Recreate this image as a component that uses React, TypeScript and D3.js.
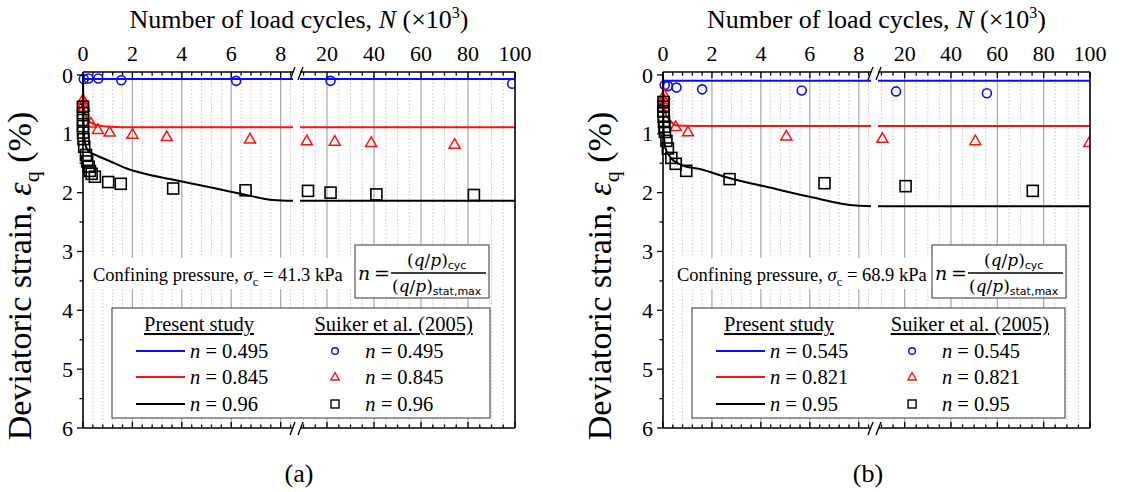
import React from 'react';
import * as d3 from 'd3';

const W = 1131;
const H = 492;
const BREAK = 8.5;

// tick labels
const topTicksLeft = [0, 2, 4, 6, 8];
const topTicksRight = [20, 40, 60, 80, 100];
const yTickValues = [0, 1, 2, 3, 4, 5, 6];

// ---------- Panel (a) data: [N (x10^3), strain %] ----------
const aBlueModelL = [[0, 0.07], [8.5, 0.07]];
const aBlueModelR = [[8.5, 0.07], [100, 0.07]];
const aRedModelL = [[0, 0.42], [0.05, 0.6], [0.12, 0.7], [0.21, 0.77], [0.35, 0.82], [0.55, 0.85], [0.8, 0.87], [1.1, 0.88], [2, 0.89], [8.5, 0.89]];
const aRedModelR = [[8.5, 0.89], [100, 0.89]];
const aBlackModelL = [[0, 0], [0.02, 0.8], [0.08, 1.15], [0.21, 1.29], [0.5, 1.36], [1, 1.45], [1.77, 1.59], [2.5, 1.68], [3.52, 1.77], [5.14, 1.91], [6.61, 2.04], [7.7, 2.125], [8.5, 2.14]];
const aBlackModelR = [[8.5, 2.14], [100, 2.14]];
const aCircles = [[0.03, 0.07], [0.22, 0.06], [0.62, 0.06], [1.55, 0.09], [6.2, 0.1], [21.5, 0.1], [98.8, 0.15]];
const aTriangles = [[0, 0.42], [0.02, 0.48], [0.04, 0.55], [0.32, 0.82], [0.6, 0.93], [1.08, 0.975], [2.0, 1.01], [3.39, 1.05], [6.76, 1.09], [11.4, 1.12], [23.3, 1.13], [38.8, 1.15], [74.3, 1.18]];
const aSquares = [[0, 0.54], [0, 0.65], [0, 0.765], [0, 0.87], [0, 0.98], [0.02, 1.09], [0.05, 1.22], [0.12, 1.36], [0.17, 1.47], [0.23, 1.56], [0.28, 1.63], [0.35, 1.68], [0.48, 1.73], [1.02, 1.82], [1.53, 1.85], [3.65, 1.93], [6.58, 1.96], [11.9, 1.97], [21.5, 2.0], [41.0, 2.03], [82.5, 2.04]];
const aLegendN = ['0.495', '0.845', '0.96'];

// ---------- Panel (b) data ----------
const bBlueModelL = [[0, 0.1], [8.5, 0.1]];
const bBlueModelR = [[8.5, 0.1], [100, 0.1]];
const bRedModelL = [[0, 0.34], [0.05, 0.55], [0.15, 0.7], [0.27, 0.765], [0.48, 0.85], [0.8, 0.865], [1.5, 0.867], [8.5, 0.867]];
const bRedModelR = [[8.5, 0.867], [100, 0.867]];
const bBlackModelL = [[0, 0], [0.02, 0.9], [0.1, 1.25], [0.27, 1.38], [0.34, 1.42], [0.82, 1.54], [1.5, 1.6], [2.7, 1.75], [4.22, 1.9], [5.99, 2.07], [7.89, 2.22], [8.5, 2.23]];
const bBlackModelR = [[8.5, 2.23], [100, 2.23]];
const bCircles = [[0.07, 0.17], [0.2, 0.19], [0.55, 0.215], [1.6, 0.245], [5.67, 0.265], [16.3, 0.28], [55.5, 0.31]];
const bTriangles = [[0.05, 0.34], [0.03, 0.42], [0.02, 0.5], [0.52, 0.88], [1.02, 0.97], [5.04, 1.04], [10.4, 1.08], [50.5, 1.12], [99.7, 1.15]];
const bSquares = [[0.02, 0.46], [0.02, 0.54], [0.02, 0.62], [0.03, 0.71], [0.04, 0.8], [0.06, 0.88], [0.08, 0.97], [0.14, 1.12], [0.2, 1.25], [0.34, 1.41], [0.52, 1.51], [0.95, 1.63], [2.72, 1.77], [6.6, 1.84], [20.4, 1.89], [75.3, 1.97]];
const bLegendN = ['0.545', '0.821', '0.95'];

const SERIF = '"Liberation Serif", "Times New Roman", serif';
const BLUE = '#0a0aff';
const RED = '#ff1010';

const layoutA = { id: 'a', x0: 83, xBL: 293, xBR: 300, xEnd: 515, sigma: '41.3', label: '(a)', labelX: 299, legL: 112, legR: 490, fL: 355, confX: 93 };
const layoutB = { id: 'b', x0: 663, xBL: 871, xBR: 878, xEnd: 1090, sigma: '68.9', label: '(b)', labelX: 868, legL: 692, legR: 1065, fL: 932, confX: 677 };

const dataA = { blue: [aBlueModelL, aBlueModelR], red: [aRedModelL, aRedModelR], black: [aBlackModelL, aBlackModelR], circles: aCircles, triangles: aTriangles, squares: aSquares, legendN: aLegendN };
const dataB = { blue: [bBlueModelL, bBlueModelR], red: [bRedModelL, bRedModelR], black: [bBlackModelL, bBlackModelR], circles: bCircles, triangles: bTriangles, squares: bSquares, legendN: bLegendN };

const Y_TOP = 72;
const Y_BOT = 428;

function triPath(cx: number, cy: number, s: number) {
  const h = s * 0.866;
  return `M${cx},${cy - h * 0.6}L${cx + s / 2},${cy + h * 0.4}L${cx - s / 2},${cy + h * 0.4}Z`;
}

function Panel({ L, D }: any) {
  const y = d3.scaleLinear().domain([-0.05, 6]).range([Y_TOP, Y_BOT]);
  const xl = d3.scaleLinear().domain([0, BREAK]).range([L.x0, L.xBL]);
  const xr = d3.scaleLinear().domain([BREAK, 100]).range([L.xBR, L.xEnd]);
  const xs = (v: number) => (v <= BREAK ? xl(v) : xr(v));
  const lineL = d3.line<number[]>().x(d => xl(d[0])).y(d => y(d[1])).curve(d3.curveMonotoneX);
  const lineR = d3.line<number[]>().x(d => xr(d[0])).y(d => y(d[1]));

  const minorL = d3.range(0.4, 8.5, 0.4).filter(v => Math.abs(v / 2 - Math.round(v / 2)) > 0.01);
  const minorR = d3.range(10, 100, 5).filter(v => v % 20 !== 0);
  const yMinor = d3.range(0.5, 6, 1);

  const majorXs = [...topTicksLeft.map(v => xl(v)), ...topTicksRight.map(v => xr(v))];
  const minorXs = [...minorL.map(v => xl(v)), ...minorR.map(v => xr(v))];

  const clipId = `clip-${L.id}`;
  const legW = L.legR - L.legL;
  const rowY = [351, 377, 404];
  const colors = [BLUE, RED, '#000'];

  const fcx = L.fL;
  return (
    <g>
      <defs>
        <clipPath id={clipId}>
          <rect x={L.x0 - 20} y={Y_TOP - 20} width={L.xEnd - L.x0 + 20} height={Y_BOT - Y_TOP + 40} />
        </clipPath>
      </defs>
      {/* grid */}
      {minorXs.map((x, i) => (
        <line key={'mg' + i} x1={x} x2={x} y1={Y_TOP} y2={Y_BOT} stroke="#c8c8c8" strokeWidth={1} strokeDasharray="1.5,2" />
      ))}
      {majorXs.filter(x => Math.abs(x - L.x0) > 1 && Math.abs(x - L.xEnd) > 1).map((x, i) => (
        <line key={'Mg' + i} x1={x} x2={x} y1={Y_TOP} y2={Y_BOT} stroke="#a8a8a8" strokeWidth={1.2} />
      ))}

      {/* model lines and test data */}
      <g clipPath={`url(#${clipId})`}>
        {[D.blue, D.red, D.black].map((pair: any, i: number) => (
          <g key={'ml' + i}>
            <path d={lineL(pair[0]) || ''} fill="none" stroke={colors[i]} strokeWidth={2} />
            <path d={lineR(pair[1]) || ''} fill="none" stroke={colors[i]} strokeWidth={2} />
          </g>
        ))}
        {D.circles.map((d: number[], i: number) => (
          <circle key={'c' + i} cx={xs(d[0])} cy={y(d[1])} r={4.5} fill="none" stroke={BLUE} strokeWidth={1.6} />
        ))}
        {D.triangles.map((d: number[], i: number) => (
          <path key={'t' + i} d={triPath(xs(d[0]), y(d[1]), 11)} fill="none" stroke={RED} strokeWidth={1.5} />
        ))}
        {D.squares.map((d: number[], i: number) => (
          <rect key={'s' + i} x={xs(d[0]) - 5.5} y={y(d[1]) - 5.5} width={11} height={11} fill="none" stroke="#000" strokeWidth={1.6} />
        ))}
      </g>

      {/* axes */}
      <g stroke="#000" strokeWidth={1.6}>
        <line x1={L.x0} x2={L.xBL} y1={Y_TOP} y2={Y_TOP} />
        <line x1={L.xBR} x2={L.xEnd} y1={Y_TOP} y2={Y_TOP} />
        <line x1={L.x0} x2={L.xBL} y1={Y_BOT} y2={Y_BOT} />
        <line x1={L.xBR} x2={L.xEnd} y1={Y_BOT} y2={Y_BOT} />
        <line x1={L.x0} x2={L.x0} y1={Y_TOP} y2={Y_BOT} />
        <line x1={L.xEnd} x2={L.xEnd} y1={Y_TOP} y2={Y_BOT} />
      </g>
      {/* break gap */}
      <rect x={L.xBL + 0.5} y={Y_TOP - 3} width={L.xBR - L.xBL - 1} height={12} fill="#fff" />
      <g stroke="#000" strokeWidth={1.3}>
        <line x1={L.xBL - 3} y1={Y_TOP + 8} x2={L.xBL + 2} y2={Y_TOP - 5} />
        <line x1={L.xBR - 2} y1={Y_TOP + 8} x2={L.xBR + 3} y2={Y_TOP - 5} />
        <line x1={L.xBL - 3} y1={Y_BOT + 7} x2={L.xBL + 2} y2={Y_BOT - 6} />
        <line x1={L.xBR - 2} y1={Y_BOT + 7} x2={L.xBR + 3} y2={Y_BOT - 6} />
      </g>
      {/* ticks */}
      <g stroke="#000" strokeWidth={1.3}>
        {majorXs.map((x, i) => (
          <g key={'xt' + i}>
            <line x1={x} x2={x} y1={Y_TOP} y2={Y_TOP + 6} />
            <line x1={x} x2={x} y1={Y_BOT} y2={Y_BOT - 6} />
          </g>
        ))}
        {minorXs.map((x, i) => (
          <g key={'xm' + i}>
            <line x1={x} x2={x} y1={Y_TOP} y2={Y_TOP + 3.5} />
            <line x1={x} x2={x} y1={Y_BOT} y2={Y_BOT - 3.5} />
          </g>
        ))}
        {yTickValues.map(v => (
          <line key={'yt' + v} x1={L.x0 - 6} x2={L.x0} y1={y(v)} y2={y(v)} />
        ))}
        {yMinor.map(v => (
          <line key={'ym' + v} x1={L.x0 - 3.5} x2={L.x0} y1={y(v)} y2={y(v)} />
        ))}
      </g>
      {/* tick labels */}
      <g fontFamily={SERIF} fontSize={22} fill="#000">
        {topTicksLeft.map(v => (
          <text key={'tl' + v} x={xl(v)} y={61} textAnchor="middle">{v}</text>
        ))}
        {topTicksRight.map(v => (
          <text key={'tr' + v} x={xr(v)} y={61} textAnchor="middle">{v}</text>
        ))}
        {yTickValues.map(v => (
          <text key={'yl' + v} x={L.x0 - 10} y={y(v)} dy="0.35em" textAnchor="end">{v}</text>
        ))}
      </g>
      {/* titles */}
      <text x={(L.x0 + L.xEnd) / 2} y={28} textAnchor="middle" fontFamily={SERIF} fontSize={26}>
        Number of load cycles, <tspan fontStyle="italic">N</tspan> (×10<tspan dy={-10} fontSize={16}>3</tspan><tspan dy={10}>)</tspan>
      </text>
      <text transform={`translate(${L.x0 - 52},276) rotate(-90)`} textAnchor="middle" fontFamily={SERIF} fontSize={34}>
        Deviatoric strain, <tspan fontStyle="italic">ε</tspan><tspan dy={8} fontSize={22}>q</tspan><tspan dy={-8}> (%)</tspan>
      </text>

      {/* confining pressure text */}
      <rect x={L.confX - 4} y={258} width={262} height={31} fill="#fff" />
      <text x={L.confX} y={281} fontFamily={SERIF} fontSize={18.5}>
        Confining pressure, <tspan fontStyle="italic">σ</tspan><tspan dy={5} fontSize={12.5}>c</tspan><tspan dy={-5}> = {L.sigma} kPa</tspan>
      </text>

      {/* formula box */}
      <rect x={fcx} y={245} width={134} height={53} fill="#fff" stroke="#555" strokeWidth={1.2} />
      <text x={fcx + 3} y={280} fontFamily='"DejaVu Serif", serif' fontSize={19} fontStyle="italic">n</text>
      <text x={fcx + 19} y={280} fontFamily='"DejaVu Serif", serif' fontSize={19}>=</text>
      <line x1={fcx + 36} x2={fcx + 131} y1={273} y2={273} stroke="#000" strokeWidth={1.3} />
      <text x={fcx + 52} y={266} fontFamily='"DejaVu Serif", serif' fontSize={17}>
        (<tspan fontStyle="italic">q</tspan>/<tspan fontStyle="italic">p</tspan>)<tspan dy={3} fontSize={11} fontFamily='"DejaVu Sans", sans-serif'>cyc</tspan>
      </text>
      <text x={fcx + 37} y={292} fontFamily='"DejaVu Serif", serif' fontSize={17}>
        (<tspan fontStyle="italic">q</tspan>/<tspan fontStyle="italic">p</tspan>)<tspan dy={3} fontSize={11} fontFamily='"DejaVu Sans", sans-serif'>stat,max</tspan>
      </text>

      {/* legend */}
      <rect x={L.legL} y={308} width={legW} height={110} fill="#fff" stroke="#555" strokeWidth={1.2} />
      <g fontFamily={SERIF} fontSize={20.5}>
        <text x={L.legL + 87} y={331} textAnchor="middle" textDecoration="underline">Present study</text>
        <text x={L.legL + legW * 0.745} y={331} textAnchor="middle" textDecoration="underline">Suiker et al. (2005)</text>
        {D.legendN.map((n: string, i: number) => (
          <g key={'lg' + i}>
            <line x1={L.legL + 24} x2={L.legL + 73} y1={rowY[i]} y2={rowY[i]} stroke={colors[i]} strokeWidth={2} />
            <text x={L.legL + 78} y={rowY[i]} dy="0.33em"><tspan fontStyle="italic">n</tspan> = {n}</text>
            <text x={L.legL + legW * 0.67} y={rowY[i]} dy="0.33em"><tspan fontStyle="italic">n</tspan> = {n}</text>
          </g>
        ))}
        <circle cx={L.legL + legW * 0.59} cy={rowY[0]} r={3.3} fill="none" stroke={BLUE} strokeWidth={1.4} />
        <path d={triPath(L.legL + legW * 0.59, rowY[1], 8.5)} fill="none" stroke={RED} strokeWidth={1.4} />
        <rect x={L.legL + legW * 0.59 - 4} y={rowY[2] - 4} width={8} height={8} fill="none" stroke="#000" strokeWidth={1.4} />
      </g>

      <text x={L.labelX} y={482} textAnchor="middle" fontFamily={SERIF} fontSize={26}>{L.label}</text>
    </g>
  );
}

export default function App() {
  return (
    <svg width={W} height={H} style={{ position: 'absolute', left: 0, top: 0, background: '#fff' }}>
      <rect width={W} height={H} fill="#fff" />
      <Panel L={layoutA} D={dataA} />
      <Panel L={layoutB} D={dataB} />
    </svg>
  );
}
